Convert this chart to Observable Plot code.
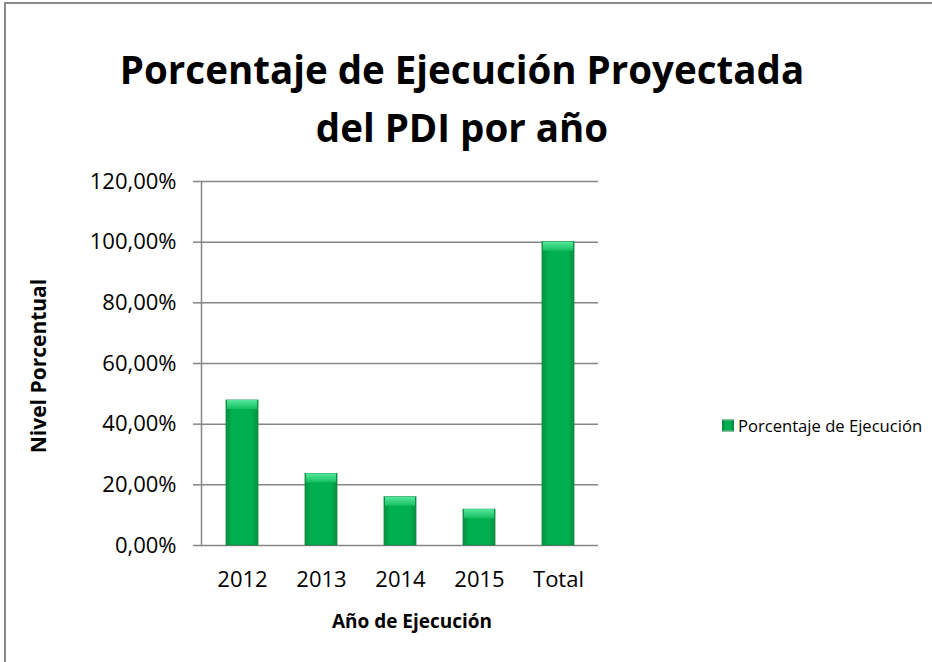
<!DOCTYPE html>
<html><head><meta charset="utf-8">
<script src="https://cdn.jsdelivr.net/npm/d3@7"></script>
<script src="https://cdn.jsdelivr.net/npm/@observablehq/plot@0.6"></script>
<style>
body{margin:0;background:#fff;}
#chart{position:relative;width:932px;height:662px;overflow:hidden;font-family:"Open Sans",sans-serif;color:#000;background:#fff;}
#chart svg{position:absolute;left:0;top:0;}
#border{position:absolute;left:4px;top:2px;width:1000px;height:1000px;border-top:2px solid #8c8c8c;border-left:2px solid #8c8c8c;}
#title{position:absolute;left:0;width:924px;top:40px;text-align:center;font-weight:700;font-size:38.5px;line-height:58px;}
#ylabel{position:absolute;left:38px;top:366px;transform:translate(-50%,-50%) rotate(-90deg);font-weight:700;font-size:21px;white-space:nowrap;}
#xlabel{position:absolute;left:412px;top:621px;transform:translate(-50%,-50%);font-weight:700;font-size:19px;white-space:nowrap;}
#legend{position:absolute;left:722px;top:425px;transform:translateY(-50%);font-size:16.6px;white-space:nowrap;display:flex;align-items:center;}
#legend .sw{display:inline-block;width:12px;height:12px;margin-right:4px;background:linear-gradient(90deg,#078f40,#00b050 30%,#00b050 70%,#078f40);border:1px solid #0a8a3f;box-sizing:border-box;}
</style></head><body>
<div id="chart">
  <div id="border"></div>
  <div id="title">Porcentaje de Ejecución Proyectada<br>del PDI por año</div>
  <div id="ylabel">Nivel Porcentual</div>
  <div id="xlabel">Año de Ejecución</div>
  <div id="legend"><span class="sw"></span>Porcentaje de Ejecución</div>
</div>
<script>
const categories = ["2012", "2013", "2014", "2015", "Total"];
const values = [47.8, 23.6, 15.9, 11.8, 100];
const yTicks = [0, 20, 40, 60, 80, 100, 120];
const seriesName = "Porcentaje de Ejecución";

const data = categories.map((c, i) => ({year: c, value: values[i]}));
const fmt = d => d.toFixed(2).replace(".", ",") + "%";

const plot = Plot.plot({
  width: 932,
  height: 662,
  marginLeft: 201,
  marginRight: 334,
  marginTop: 181,
  marginBottom: 117,
  style: {fontFamily: "Open Sans, sans-serif", fontSize: "22px", color: "#000", background: "transparent"},
  x: {domain: categories, paddingInner: 0.6, paddingOuter: 0.3},
  y: {domain: [0, 120]},
  marks: [
    Plot.gridY(yTicks, {stroke: "#868686", strokeOpacity: 1, strokeWidth: 1.5}),
    Plot.axisY(yTicks, {tickSize: 8, tickPadding: 17, stroke: "#868686", strokeWidth: 1.5, tickFormat: fmt, label: null, fill: "#000"}),
    Plot.axisX({tickSize: 0, tickPadding: 26, label: null, fill: "#000"}),
    Plot.frame({anchor: "left", stroke: "#868686", strokeWidth: 1.5}),
    Plot.barY(data, {x: "year", y: "value", fill: "url(#barGrad)", stroke: "#0a8a3f", strokeWidth: 0.8}),
    Plot.barY(data, {x: "year", y1: "value", y2: "value", insetBottom: -9, fill: "url(#capGrad)", insetLeft: 1, insetRight: 1})
  ]
});

const defs = `<defs>
<linearGradient id="barGrad" x1="0" x2="1" y1="0" y2="0">
<stop offset="0" stop-color="#07913f"/><stop offset="0.2" stop-color="#00b050"/>
<stop offset="0.8" stop-color="#00b050"/><stop offset="1" stop-color="#07913f"/></linearGradient>
<linearGradient id="capGrad" x1="0" x2="0" y1="0" y2="1">
<stop offset="0" stop-color="#56e89c"/><stop offset="1" stop-color="#14bf62"/></linearGradient>
</defs>`;
plot.insertAdjacentHTML("afterbegin", defs);
document.getElementById("chart").insertBefore(plot, document.getElementById("border"));
</script>
</body></html>
